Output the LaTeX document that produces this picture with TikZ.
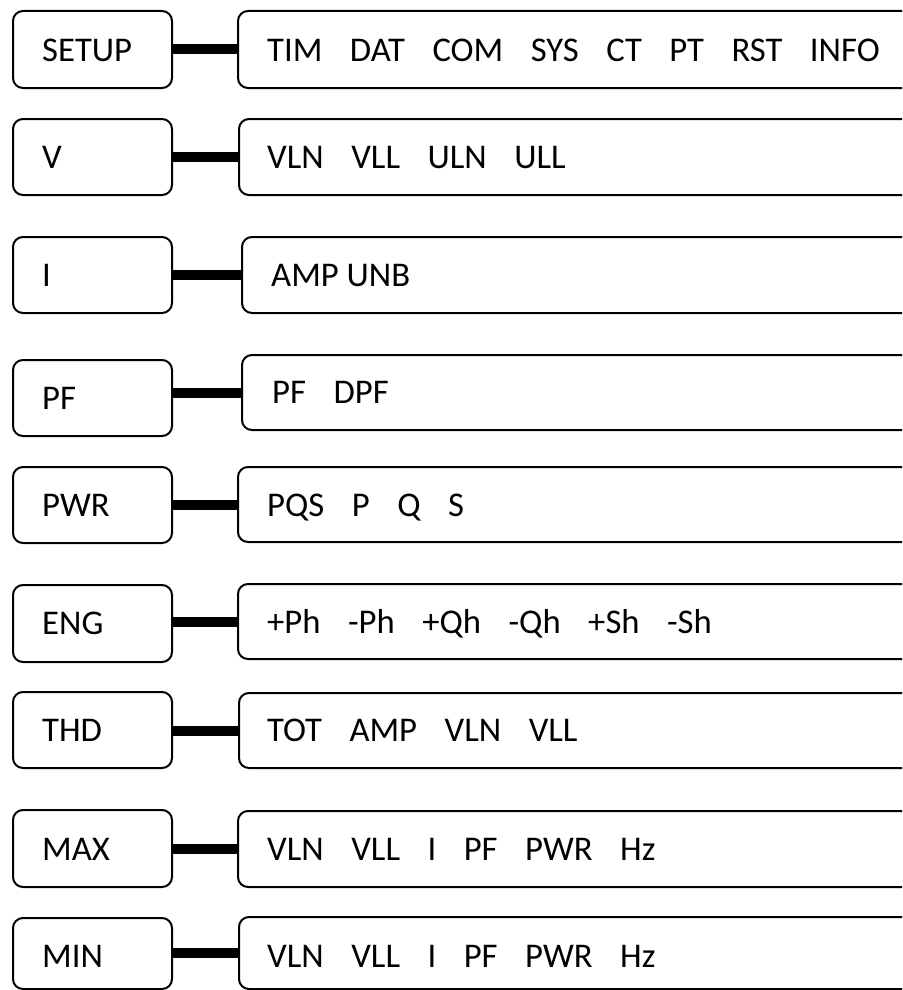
\documentclass[tikz,border=0pt]{standalone}
\usepackage{fontspec}
\setmainfont{Carlito}
\newcommand{\gp}{\hspace{27.5pt}}
\begin{document}
\begin{tikzpicture}[x=1pt,y=-1pt,
  box/.style={draw, line width=2pt, rounded corners=10pt, inner sep=0pt, anchor=north west},
  lbl/.style={anchor=base west, inner sep=0pt, font=\fontsize{34.67}{40}\selectfont},
  link/.style={line width=10pt}]
\useasboundingbox (0,0) rectangle (902,990);
\clip (0,0) rectangle (902,990);
% SETUP
\node[box, minimum width=159pt, minimum height=77pt] (Lsetup) at (12,10) {};
\node[box, minimum width=700pt, minimum height=77pt] (Rsetup) at (237,10) {};
\node[lbl] (tLsetup) at (42,62) {SETUP};
\node[lbl] (tRsetup) at (267,62) {TIM\gp DAT\gp COM\gp SYS\gp CT\gp PT\gp RST\gp INFO};
\draw[link] (Lsetup.east |- Rsetup.west) -- (Rsetup.west);
% V
\node[box, minimum width=159pt, minimum height=76pt] (Lv) at (12,118) {};
\node[box, minimum width=700pt, minimum height=76pt] (Rv) at (238,118) {};
\node[lbl] (tLv) at (42,168) {V};
\node[lbl] (tRv) at (267,168) {VLN\gp VLL\gp ULN\gp ULL};
\draw[link] (Lv.east |- Rv.west) -- (Rv.west);
% I
\node[box, minimum width=159pt, minimum height=76pt] (Li) at (12,236) {};
\node[box, minimum width=700pt, minimum height=76pt] (Ri) at (241,236) {};
\node[lbl] (tLi) at (42,286) {I};
\node[lbl] (tRi) at (271,286) {AMP UNB};
\draw[link] (Li.east |- Ri.west) -- (Ri.west);
% PF
\node[box, minimum width=159pt, minimum height=76pt] (Lpf) at (12,359) {};
\node[box, minimum width=700pt, minimum height=75pt] (Rpf) at (241,354) {};
\node[lbl] (tLpf) at (42,409) {PF};
\node[lbl] (tRpf) at (272,403) {PF\gp DPF};
\draw[link] (Lpf.east |- Rpf.west) -- (Rpf.west);
% PWR
\node[box, minimum width=159pt, minimum height=76pt] (Lpwr) at (12,466) {};
\node[box, minimum width=700pt, minimum height=75pt] (Rpwr) at (237,466) {};
\node[lbl] (tLpwr) at (42,516) {PWR};
\node[lbl] (tRpwr) at (267,516) {PQS\gp P\gp Q\gp S};
\draw[link] (Lpwr.east |- Rpwr.west) -- (Rpwr.west);
% ENG
\node[box, minimum width=159pt, minimum height=77pt] (Leng) at (12,584) {};
\node[box, minimum width=700pt, minimum height=75pt] (Reng) at (237,583) {};
\node[lbl] (tLeng) at (42,634) {ENG};
\node[lbl] (tReng) at (267,633) {+Ph\gp -Ph\gp +Qh\gp -Qh\gp +Sh\gp -Sh};
\draw[link] (Leng.east |- Reng.west) -- (Reng.west);
% THD
\node[box, minimum width=159pt, minimum height=76pt] (Lthd) at (12,691) {};
\node[box, minimum width=700pt, minimum height=75pt] (Rthd) at (238,692) {};
\node[lbl] (tLthd) at (42,741) {THD};
\node[lbl] (tRthd) at (267,741) {TOT\gp AMP\gp VLN\gp VLL};
\draw[link] (Lthd.east |- Rthd.west) -- (Rthd.west);
% MAX
\node[box, minimum width=159pt, minimum height=77pt] (Lmax) at (12,809) {};
\node[box, minimum width=700pt, minimum height=76pt] (Rmax) at (237,810) {};
\node[lbl] (tLmax) at (42,860) {MAX};
\node[lbl] (tRmax) at (267,860) {VLN\gp VLL\gp I\gp PF\gp PWR\gp Hz};
\draw[link] (Lmax.east |- Rmax.west) -- (Rmax.west);
% MIN
\node[box, minimum width=159pt, minimum height=71pt] (Lmin) at (12,917) {};
\node[box, minimum width=700pt, minimum height=72pt] (Rmin) at (238,916) {};
\node[lbl] (tLmin) at (42,967) {MIN};
\node[lbl] (tRmin) at (267,967) {VLN\gp VLL\gp I\gp PF\gp PWR\gp Hz};
\draw[link] (Lmin.east |- Rmin.west) -- (Rmin.west);
\end{tikzpicture}
\end{document}
